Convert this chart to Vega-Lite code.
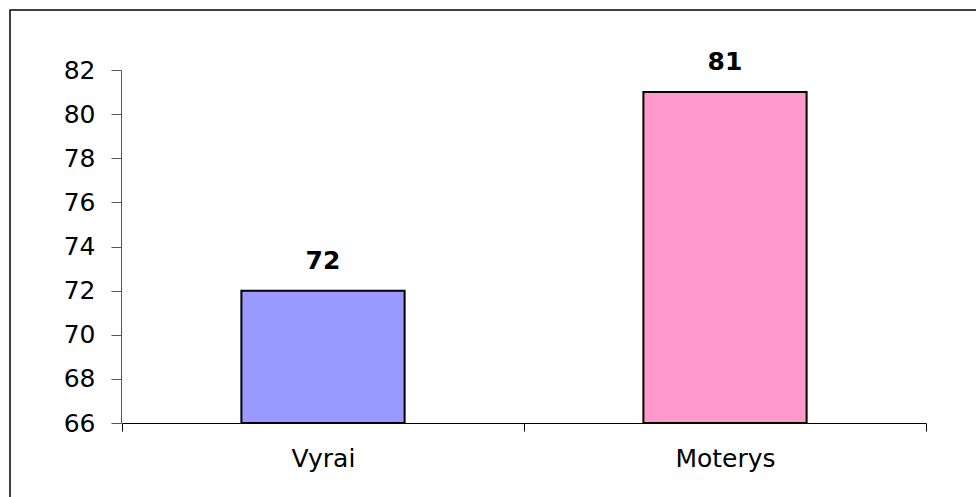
{
  "$schema": "https://vega.github.io/schema/vega-lite/v6.json",
  "width": 975,
  "height": 495,
  "autosize": "none",
  "padding": {"left": 10, "top": 10, "right": -9, "bottom": -8},
  "background": "white",
  "config": {"view": {"stroke": "black", "strokeWidth": 1.5}},
  "data": {"values": [
    {"group": "Vyrai", "value": 72},
    {"group": "Moterys", "value": 81}
  ]},
  "encoding": {
    "x": {
      "field": "group", "type": "nominal", "sort": null,
      "scale": {"range": [112, 916], "paddingInner": 0, "paddingOuter": 0},
      "axis": {
        "title": null, "labelAngle": 0, "tickBand": "extent", "offset": -82,
        "domainColor": "black", "tickColor": "black", "tickSize": 8,
        "labelFont": "DejaVu Sans", "labelFontSize": 25, "labelColor": "black",
        "labelPadding": 15, "grid": false
      }
    },
    "y": {
      "field": "value", "type": "quantitative",
      "scale": {"domain": [66, 82], "range": [413, 60], "nice": false, "zero": false},
      "axis": {
        "title": null, "values": [66, 68, 70, 72, 74, 76, 78, 80, 82], "offset": -111,
        "domainColor": "#555555", "tickColor": "#555555", "tickSize": 10,
        "labelFont": "DejaVu Sans", "labelFontSize": 25, "labelColor": "black",
        "labelPadding": 16, "grid": false
      }
    }
  },
  "layer": [
    {
      "mark": {"type": "bar", "width": {"band": 0.406}, "stroke": "black", "strokeWidth": 2},
      "encoding": {
        "y2": {"datum": 66},
        "color": {
          "field": "group", "type": "nominal",
          "scale": {"domain": ["Vyrai", "Moterys"], "range": ["#9999FF", "#FF99CC"]},
          "legend": null
        }
      }
    },
    {
      "mark": {"type": "text", "dy": -22, "fontWeight": "bold", "fontSize": 25, "font": "DejaVu Sans", "baseline": "alphabetic", "color": "black"},
      "encoding": {"text": {"field": "value", "type": "quantitative"}}
    }
  ]
}
